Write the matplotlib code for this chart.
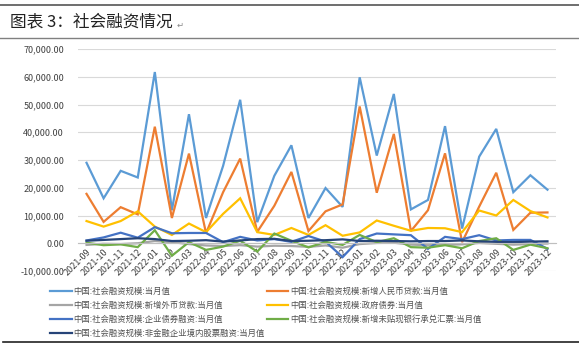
import matplotlib.pyplot as plt
from matplotlib.lines import Line2D
import numpy as np

plt.rcParams['font.family'] = ['Noto Sans CJK SC', 'DejaVu Sans']

# Data (亿元)
months = ["2021-09", "2021-10", "2021-11", "2021-12",
          "2022-01", "2022-02", "2022-03", "2022-04", "2022-05", "2022-06",
          "2022-07", "2022-08", "2022-09", "2022-10", "2022-11", "2022-12",
          "2023-01", "2023-02", "2023-03", "2023-04", "2023-05", "2023-06",
          "2023-07", "2023-08", "2023-09", "2023-10", "2023-11", "2023-12"]
tsf_total = [29000, 16200, 26100, 23700, 61700, 11900, 46500, 9100, 27900, 51700,
             7600, 24300, 35300, 9100, 19900, 13100, 59800, 31600, 53800, 12200,
             15600, 42200, 5300, 31200, 41200, 18400, 24500, 19300]
rmb_loans = [17800, 7700, 13000, 10400, 42000, 9100, 32300, 3600, 18400, 30500,
             4100, 13500, 25700, 4400, 11500, 14000, 49300, 18200, 39400, 4400,
             11900, 32400, 400, 13200, 25400, 4800, 11000, 11100]
fx_loans = [-600, -200, -300, 0, 800, 400, -300, -800, -1000, -700, -1200, -900,
            -1000, -1300, -800, -1600, -300, 100, 200, -500, -700, -600, -400,
            100, -200, -500, -300, -100]
gov_bonds = [8000, 6000, 8000, 11500, 6000, 3000, 7100, 4000, 10600, 16200,
             4000, 3000, 5500, 3000, 6500, 2700, 3900, 8200, 6300, 4500,
             5500, 5400, 4000, 11800, 10000, 15600, 11600, 9300]
corp_bonds = [1000, 2100, 3800, 2000, 5800, 3600, 3700, 3700, 400, 2300,
              1000, 1500, 500, 2600, 600, -5000, 1500, 3500, 3200, 2900,
              -2000, 2300, 1500, 2900, 1000, 1200, 1200, -2000]
bank_accept = [200, -700, -400, -1400, 4700, -4500, 400, -2400, -1200, 900,
               -3000, 3500, 900, -1500, 500, -600, 3000, 400, 1800, -1400,
               -1600, -700, -1800, 800, 1800, -2400, -500, -1800]
equity = [900, 1200, 1500, 1800, 1500, 800, 900, 1100, 600, 1000,
          1500, 1600, 800, 900, 1100, 1400, 800, 900, 800, 700,
          800, 800, 1000, 700, 500, 400, 600, 700]

labels = ["中国:社会融资规模:当月值",
          "中国:社会融资规模:新增人民币贷款:当月值",
          "中国:社会融资规模:新增外币贷款:当月值",
          "中国:社会融资规模:政府债券:当月值",
          "中国:社会融资规模:企业债券融资:当月值",
          "中国:社会融资规模:新增未贴现银行承兑汇票:当月值",
          "中国:社会融资规模:非金融企业境内股票融资:当月值"]
series = [tsf_total, rmb_loans, fx_loans, gov_bonds, corp_bonds, bank_accept, equity]
colors = ['#5B9BD5', '#ED7D31', '#A5A5A5', '#FFC000', '#4472C4', '#70AD47', '#264478']

fig = plt.figure(figsize=(5.79, 3.58), dpi=100)

# header and frame lines
fig.add_artist(Line2D([0, 1], [1 - 5 / 358] * 2, color='#555555', lw=1.2))
fig.add_artist(Line2D([0, 1], [1 - 38 / 358] * 2, color='#808080', lw=1.0))
fig.add_artist(Line2D([3 / 579, 1], [1 - 342 / 358] * 2, color='#222222', lw=1.2))
fig.text(10 / 579, 1 - 22 / 358, "图表 3：社会融资情况", fontsize=12, va='center', color='#222222')
fig.text(177 / 579, 1 - 25 / 358, "↵", fontsize=6, va='center', color='#888888',
         family=['DejaVu Sans'])

ax = fig.add_axes([78 / 579, 1 - 271 / 358, (556 - 78) / 579, (271 - 49) / 358])
x = np.arange(len(months))
handles = []
for vals, lab, c in zip(series, labels, colors):
    h, = ax.plot(x, vals, color=c, lw=1.6, label=lab, solid_joinstyle='miter')
    handles.append(h)

ax.set_xlim(-0.5, len(months) - 0.5)
ax.set_ylim(-10000, 70000)
ax.set_yticks(np.arange(-10000, 70001, 10000))
ax.set_yticklabels([f"{v:,.2f}" for v in np.arange(-10000, 70001, 10000)])
ax.grid(axis='y', color='#D9D9D9', lw=0.8)
ax.set_axisbelow(True)
for s in ['top', 'right', 'left']:
    ax.spines[s].set_visible(False)
ax.spines['bottom'].set_position(('data', 0))
ax.spines['bottom'].set_color('#BFBFBF')
ax.set_xticks(x)
ax.set_xticklabels(months, rotation=45, ha='right', va='top', rotation_mode='anchor')
ax.tick_params(axis='x', length=0, pad=3, labelsize=6.5, labelcolor='#404040')
ax.tick_params(axis='y', length=0, pad=10, labelsize=6.5, labelcolor='#404040')

order = [0, 2, 4, 6, 1, 3, 5]
fig.legend([handles[i] for i in order], [labels[i] for i in order],
           loc='upper left', bbox_to_anchor=(46 / 579, 1 - 283 / 358), ncol=2,
           frameon=False, fontsize=6, handlelength=2.6, handletextpad=0.2,
           columnspacing=0.2, labelspacing=0.6, borderpad=0, labelcolor='#505050')

fig.savefig('out.png', dpi=100)
